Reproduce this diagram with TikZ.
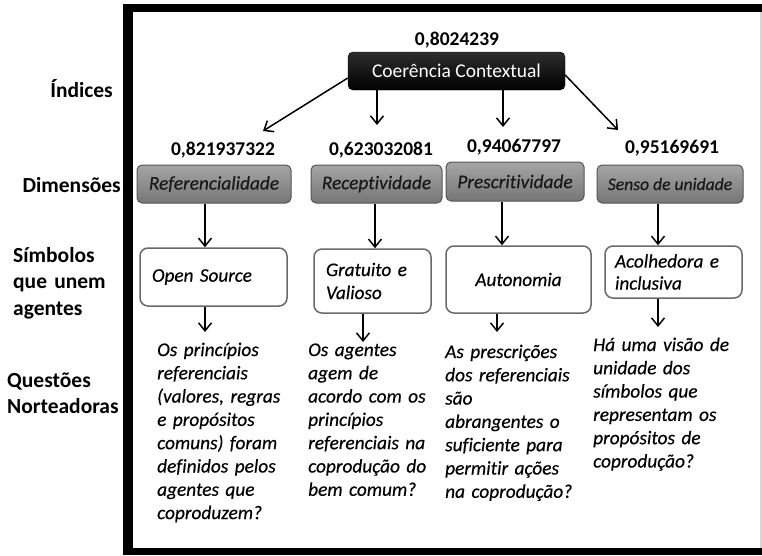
\documentclass[tikz,border=0pt]{standalone}
\usepackage{fontspec}
\setmainfont{Carlito}[Ligatures=NoCommon,ItalicFeatures={FakeBold=0.4}]
\usetikzlibrary{arrows.meta,calc}
\definecolor{ctxtop}{RGB}{45,45,45}
\definecolor{dimtop}{RGB}{165,165,165}
\definecolor{dimbot}{RGB}{118,118,118}
\definecolor{dimline}{RGB}{85,85,85}
\definecolor{symline}{RGB}{105,105,105}
\definecolor{edgegray}{RGB}{215,215,215}
\begin{document}
\begin{tikzpicture}[x=1pt,y=-1pt,
  arr/.style={-{Straight Barb[length=8pt,width=13pt,line width=1.5pt]},line width=1.5pt},
  ctx/.style={rounded corners=5pt,top color=ctxtop,bottom color=black,draw=black,
    text=white,font=\fontsize{19.5}{22}\selectfont,inner sep=0pt},
  dim/.style={rounded corners=5pt,top color=dimtop,bottom color=dimbot,draw=dimline,
    line width=1pt,font=\itshape\fontsize{19.3}{22}\selectfont,inner sep=0pt,
    minimum height=38pt,text=black!90},
  sym/.style={rounded corners=8pt,draw=symline,line width=1.5pt,fill=white,
    font=\itshape\fontsize{19.2}{23}\selectfont,align=left,inner ysep=0pt},
  num/.style={font=\bfseries\fontsize{19.5}{22}\selectfont,inner sep=0pt,anchor=base},
  quest/.style={font=\itshape\fontsize{19.3}{23.3}\selectfont,align=left,anchor=base west,
    inner sep=0pt,text width=170pt},
  side/.style={font=\bfseries\fontsize{21.5}{26.5}\selectfont,inner sep=0pt,align=left}
]
\useasboundingbox (0,0) rectangle (762,555);

% heavy frame around the diagram
\fill[black] (123,4) rectangle (762,555);
\fill[white] (133,12) rectangle (760,548);
\draw[edgegray,line width=1.5pt] (760.75,12) -- (760.75,548);

% row labels
\node[side,anchor=base east] (lind) at (113,97) {Índices};
\node[side,anchor=base east] (ldim) at (121,192) {Dimensões};
\node[side,anchor=base west,text width=110pt] (lsim) at (13,262) {Símbolos\\que unem\\agentes};
\node[side,anchor=base west,text width=116pt] (lque) at (7,387) {Questões\\Norteadoras};

% index
\node[num] (n0) at (457,45) {0,8024239};
\node[ctx,minimum width=217pt,minimum height=38pt] (cc) at (456.5,71) {Coerência Contextual};

% dimension values
\node[num] (n1) at (223,155) {0,821937322};
\node[num] (n2) at (381,155) {0,623032081};
\node[num] (n3) at (514,152) {0,94067797};
\node[num] (n4) at (672,153) {0,95169691};

% dimensions
\node[dim,minimum width=154pt] (ref) at (214,184) {Referencialidade};
\node[dim,minimum width=131pt] (rec) at (376.5,184) {Receptividade};
\node[dim,minimum width=138pt,minimum height=39pt] (pre) at (515,181.5) {Prescritividade};
\node[dim,minimum width=146pt,font=\itshape\fontsize{17.6}{20}\selectfont] (sen) at (670,184) {Senso de unidade};

% symbols
\node[sym,inner xsep=12pt,text width=123pt,minimum height=58pt] (os) at (213.5,277) {Open Source};
\node[sym,inner xsep=12pt,text width=93pt,minimum height=64pt] (gv) at (372.5,281) {Gratuito e\\Valioso};
\node[sym,inner xsep=12pt,text width=121pt,minimum height=67pt,align=center] (au) at (518.5,279.5) {Autonomia};
\node[sym,inner xsep=10pt,text width=117pt,minimum height=52pt,
  font=\itshape\fontsize{19.2}{22}\selectfont] (ac) at (673.5,272) {Acolhedora e\\inclusiva};

% guiding questions
\node[quest] (q1) at (157,356) {Os princípios\\referenciais\\(valores, regras\\e propósitos\\comuns) foram\\definidos pelos\\agentes que\\coproduzem?};
\node[quest] (q2) at (308,356) {Os agentes\\agem de\\acordo com os\\princípios\\referenciais na\\coprodução do\\bem comum?};
\node[quest] (q3) at (445,358) {As prescrições\\dos referenciais\\são\\abrangentes o\\suficiente para\\permitir ações\\na coprodução?};
\node[quest] (q4) at (593,351) {Há uma visão de\\unidade dos\\símbolos que\\representam os\\propósitos de\\coprodução?};

% index -> dimension values
\coordinate (t1) at (263,131);
\coordinate (t2) at (377,125);
\coordinate (t3) at (503,127);
\coordinate (t4) at (618,130);
\draw[arr] ($(cc.west)+(0,7)$) -- (t1);
\draw[arr] (cc.south -| t2) -- (t2);
\draw[arr] (cc.south -| t3) -- (t3);
\draw[arr] ($(cc.east)+(0,4)$) -- (t4);

% dimensions -> symbols
\coordinate (d1) at (205,0);
\coordinate (d2) at (375,0);
\coordinate (d3) at (502,0);
\coordinate (d4) at (658,0);
\draw[arr] (ref.south -| d1) -- (os.north -| d1);
\draw[arr] (rec.south -| d2) -- (gv.north -| d2);
\draw[arr] (pre.south -| d3) -- (au.north -| d3);
\draw[arr] (sen.south -| d4) -- (ac.north -| d4);

% symbols -> questions
\coordinate (e1) at (205,332);
\coordinate (e2) at (363,342);
\coordinate (e3) at (497,332);
\coordinate (e4) at (658,327);
\draw[arr] (os.south -| e1) -- (e1);
\draw[arr] (gv.south -| e2) -- (e2);
\draw[arr] (au.south -| e3) -- (e3);
\draw[arr] (ac.south -| e4) -- (e4);
\end{tikzpicture}
\end{document}
